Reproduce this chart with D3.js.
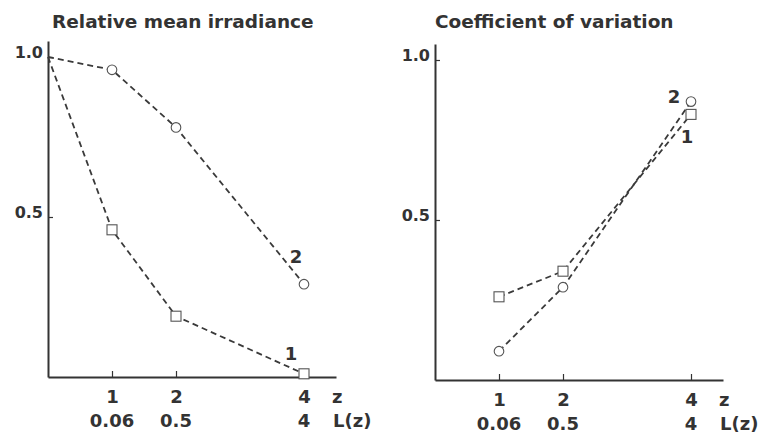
<!DOCTYPE html>
<html>
<head>
<meta charset="utf-8">
<script src="https://cdn.jsdelivr.net/npm/d3@7"></script>
<style>
  body { margin: 0; background: #fff; }
  svg text { font-family: "DejaVu Sans", "Liberation Sans", sans-serif; font-weight: bold; fill: #333; }
</style>
</head>
<body>
<div id="chart"></div>
<script>
// data
const zValues = [0, 1, 2, 4];
const zTicks = [1, 2, 4];
const lTicks = ["0.06", "0.5", "4"];
const yTicks = [0.5, 1.0];

const irradiance1 = [1.0, 0.46, 0.19, 0.01]; // squares
const irradiance2 = [1.0, 0.96, 0.78, 0.29]; // circles
const variation1 = [null, 0.26, 0.34, 0.83]; // squares
const variation2 = [null, 0.09, 0.29, 0.87]; // circles

const ink = "#333";
const width = 762, height = 436;

const svg = d3.select("#chart")
  .append("svg")
  .attr("width", width)
  .attr("height", height);

const drawPanel = (opts) => {
  const x = d3.scaleLinear().domain([0, 4.5]).range([opts.left, opts.left + 288]);
  const y = d3.scaleLinear().domain([0, 1.05]).range([opts.bottom, opts.bottom - 336]);
  const g = svg.append("g");

  g.append("text")
    .attr("x", opts.titleX)
    .attr("y", 28)
    .style("font-size", "18.5px")
    .text(opts.title);

  // y axis, ticks point inward, label baseline sits on the tick
  const yAxis = g.append("g")
    .attr("transform", `translate(${opts.left},0)`)
    .call(d3.axisLeft(y).tickValues(yTicks).tickSize(-5).tickSizeOuter(0)
      .tickFormat(d3.format(".1f")).tickPadding(5));
  yAxis.select(".domain").attr("stroke", ink).attr("stroke-width", 2);
  yAxis.selectAll(".tick line").attr("stroke", ink).attr("stroke-width", 1.2);
  yAxis.selectAll(".tick text")
    .style("font-size", "16px")
    .attr("fill", ink)
    .attr("dy", "0");

  // x axis: z row
  const xAxis = g.append("g")
    .attr("transform", `translate(0,${opts.bottom})`)
    .call(d3.axisBottom(x).tickValues(zTicks).tickSize(-6).tickSizeOuter(0)
      .tickFormat(d3.format("d")).tickPadding(13));
  xAxis.select(".domain").attr("stroke", ink).attr("stroke-width", 2);
  xAxis.selectAll(".tick line").attr("stroke", ink).attr("stroke-width", 1.2);
  xAxis.selectAll(".tick text").style("font-size", "18px").attr("fill", ink);

  // L(z) row
  g.selectAll(".lz")
    .data(zTicks)
    .enter()
    .append("text")
    .attr("text-anchor", "middle")
    .attr("x", (d) => x(d))
    .attr("y", opts.bottom + 50)
    .style("font-size", "18px")
    .text((d, i) => lTicks[i]);

  g.append("text")
    .attr("x", x(4.5) - 4)
    .attr("y", opts.bottom + 26)
    .style("font-size", "18px")
    .text("z");
  g.append("text")
    .attr("x", x(4.5) - 3)
    .attr("y", opts.bottom + 50)
    .style("font-size", "18px")
    .text("L(z)");

  const line = d3.line()
    .defined((d) => d.v !== null)
    .x((d) => x(d.z))
    .y((d) => y(d.v));

  opts.series.forEach((s) => {
    const pts = zValues.map((z, i) => ({ z: z, v: s.values[i] }));
    g.append("path")
      .datum(pts)
      .attr("d", line)
      .attr("fill", "none")
      .attr("stroke", "#3a3a3a")
      .attr("stroke-width", 1.8)
      .attr("stroke-dasharray", "6,4");

    const marks = pts.filter((d) => d.v !== null && d.z > 0);
    if (s.shape === "circle") {
      g.selectAll(null).data(marks).enter()
        .append("circle")
        .attr("cx", (d) => x(d.z))
        .attr("cy", (d) => y(d.v))
        .attr("r", 4.8)
        .attr("fill", "#fff")
        .attr("stroke", "#555")
        .attr("stroke-width", 1.1);
    } else {
      g.selectAll(null).data(marks).enter()
        .append("rect")
        .attr("x", (d) => x(d.z) - 5)
        .attr("y", (d) => y(d.v) - 5)
        .attr("width", 10)
        .attr("height", 10)
        .attr("fill", "#fff")
        .attr("stroke", "#555")
        .attr("stroke-width", 1.1);
    }

    const last = pts[pts.length - 1];
    g.append("text")
      .attr("text-anchor", "middle")
      .attr("x", x(last.z) + s.labelDx)
      .attr("y", y(last.v) + s.labelDy)
      .attr("dy", "0.35em")
      .style("font-size", "18px")
      .text(s.label);
  });
};

drawPanel({
  left: 48,
  bottom: 377,
  titleX: 52,
  title: "Relative mean irradiance",
  series: [
    { values: irradiance2, shape: "circle", label: "2", labelDx: -8, labelDy: -28 },
    { values: irradiance1, shape: "square", label: "1", labelDx: -13, labelDy: -20 }
  ]
});

drawPanel({
  left: 435,
  bottom: 380,
  titleX: 435,
  title: "Coefficient of variation",
  series: [
    { values: variation2, shape: "circle", label: "2", labelDx: -17, labelDy: -5 },
    { values: variation1, shape: "square", label: "1", labelDx: -4, labelDy: 22 }
  ]
});
</script>
</body>
</html>
